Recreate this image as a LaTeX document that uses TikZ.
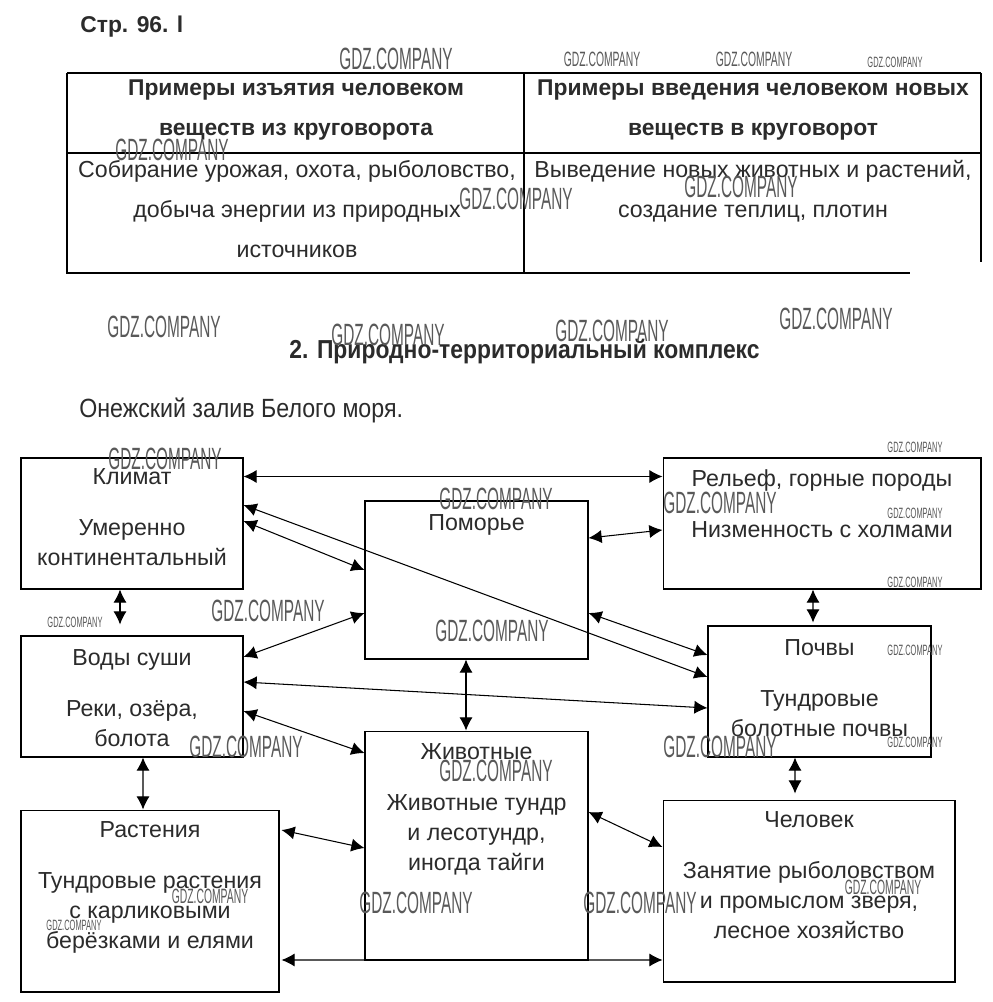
\documentclass[tikz,border=0pt]{standalone}
\usepackage{fontspec}
\setmainfont{Liberation Sans}
\newfontfamily\narrowfont[FakeStretch=0.88]{Liberation Sans}
\newfontfamily\wmfont[FakeStretch=0.5]{Liberation Sans}
\usetikzlibrary{arrows.meta,positioning}
\definecolor{ink}{HTML}{2B2B2B}

\begin{document}
\begin{tikzpicture}[
            x=0.02cm, y=-0.02cm,
            blk/.style={draw, line width=0.6pt, inner sep=0pt},
            txt/.style={align=center, inner sep=0pt, text=ink, font=\fontsize{13.2}{17}\selectfont},
            hd/.style={txt, font=\bfseries\fontsize{13}{23}\selectfont},
            body/.style={txt, font=\fontsize{13.2}{22.7}\selectfont},
            wm/.style={text=black!65, inner sep=0pt, font=\wmfont\fontsize{17.5}{17.5}\selectfont},
            wms/.style={wm, font=\wmfont\fontsize{11.8}{12}\selectfont},
            wmt/.style={wm, font=\wmfont\fontsize{8.5}{9}\selectfont},
            link/.style={<->, line width=0.6pt},
            >={Latex[length=7.5pt,width=7.5pt]}
        ]
        \useasboundingbox[fill=white] (0,0) rectangle (993,1002);

        % page header
        \node[anchor=west, inner sep=0pt, text=ink, font=\bfseries\fontsize{13}{15}\selectfont] (page) at (80,27) {Стр. 96. l};

        % table
        \draw[line width=0.6pt] (67,73) -- (981,73);
        \draw[line width=0.6pt] (67,153) -- (981,153);
        \draw[line width=0.6pt] (67,73) -- (67,273) -- (910,273);
        \draw[line width=0.6pt] (524,73) -- (524,273);
        \draw[line width=0.6pt] (981,73) -- (981,262);
        \node[hd, anchor=north] (head-out) at (296,79) {Примеры изъятия человеком\\веществ из круговорота};
        \node[hd, anchor=north] (head-in) at (753,79) {Примеры введения человеком новых\\веществ в круговорот};
        \node[body, anchor=north] (row-out) at (297,160) {Собирание урожая, охота, рыболовство,\\добыча энергии из природных\\источников};
        \node[body, anchor=north] (row-in) at (753,160) {Выведение новых животных и растений,\\создание теплиц, плотин};

        % second task
        \node[inner sep=0pt, text=ink, font=\narrowfont\bfseries\fontsize{14.8}{16}\selectfont] (ptk) at (524.5,352) {2. Природно-территориальный комплекс};
        \node[anchor=west, inner sep=0pt, text=ink, font=\narrowfont\fontsize{15}{16}\selectfont] (place) at (79,410) {Онежский залив Белого моря.};

        % blocks
        \node[blk, minimum width=4.44cm, minimum height=2.62cm] (klimat) at (132,523.5) {};
        \node[blk, minimum width=4.44cm, minimum height=2.42cm] (vody) at (132,696.5) {};
        \node[blk, minimum width=5.16cm, minimum height=3.64cm] (rast) at (150,901) {};
        \node[blk, minimum width=4.46cm, minimum height=3.16cm] (pomor) at (476.5,580) {};
        \node[blk, minimum width=4.46cm, minimum height=4.58cm] (zhiv) at (476.5,845.5) {};
        \node[blk, minimum width=6.36cm, minimum height=2.62cm] (relief) at (822,523.5) {};
        \node[blk, minimum width=4.46cm, minimum height=2.62cm] (pochvy) at (819.5,691.5) {};
        \node[blk, minimum width=5.84cm, minimum height=3.64cm] (chel) at (809,891) {};

        \node[txt, below=0.22cm of klimat.north] (klimat-t) {Климат\\[12pt]Умеренно\\континентальный};
        \node[txt, below=0.28cm of vody.north] (vody-t) {Воды суши\\[12pt]Реки, озёра,\\болота};
        \node[txt, below=0.24cm of rast.north] (rast-t) {Растения\\[12pt]Тундровые растения\\с карликовыми\\берёзками и елями};
        \node[txt, below=0.28cm of pomor.north] (pomor-t) {Поморье};
        \node[txt, below=0.26cm of zhiv.north] (zhiv-t) {Животные\\[12pt]Животные тундр\\и лесотундр,\\иногда тайги};
        \node[txt, below=0.24cm of relief.north] (relief-t) {Рельеф, горные породы\\[12pt]Низменность с холмами};
        \node[txt, below=0.28cm of pochvy.north] (pochvy-t) {Почвы\\[12pt]Тундровые\\болотные почвы};
        \node[txt, below=0.24cm of chel.north] (chel-t) {Человек\\[12pt]Занятие рыболовством\\и промыслом зверя,\\лесное хозяйство};

        % links
        \draw[link] ([yshift=-0.38cm]klimat.north east) -- ([yshift=-0.38cm]relief.north west);
        \draw[link] ([yshift=0.05cm]klimat.east) -- ([yshift=0.2cm]pomor.west);
        \draw[link] ([yshift=0.37cm]klimat.east) -- ([yshift=0.29cm]pochvy.west);
        \draw[link] ([xshift=-0.24cm]klimat.south) -- ([xshift=-0.24cm,yshift=0.22cm]vody.north);
        \draw[link] ([yshift=0.79cm]vody.east) -- ([yshift=-0.66cm]pomor.west);
        \draw[link] ([yshift=0.29cm]vody.east) -- ([yshift=-0.33cm]pochvy.west);
        \draw[link] ([yshift=-0.29cm]vody.east) -- ([yshift=1.85cm]zhiv.west);
        \draw[link] ([xshift=0.22cm]vody.south) -- ([xshift=-0.14cm]rast.north);
        \draw[link] ([yshift=0.84cm]pomor.east) -- ([yshift=-0.13cm]relief.west);
        \draw[link] ([yshift=-0.66cm]pomor.east) -- ([yshift=0.73cm]pochvy.west);
        \draw[link] ([xshift=-0.21cm]pomor.south) -- ([xshift=-0.21cm]zhiv.north);
        \draw[link] ([xshift=-0.18cm]relief.south) -- ([xshift=-0.13cm,yshift=0.06cm]pochvy.north);
        \draw[link] ([xshift=-0.49cm]pochvy.south) -- ([xshift=-0.28cm,yshift=0.12cm]chel.north);
        \draw[link] ([xshift=0.04cm,yshift=1.42cm]rast.east) -- ([yshift=-0.05cm]zhiv.west);
        \draw[link] ([yshift=0.67cm]zhiv.east) -- ([yshift=0.88cm]chel.west);
        \draw[link] ([xshift=0.04cm,yshift=-1.18cm]rast.east) -- ([yshift=-1.38cm]chel.west);

        % watermarks
        \foreach \x/\y [count=\i] in {396/59, 172/150, 516/199, 741/187, 164/327, 388/335, 612/331, 836/319,
                165/459, 496/499, 720/503, 268/611, 492/631, 246/747, 720/747, 496/771, 416/903, 640/903}
            \node[wm] (wm-\i) at (\x,\y) {GDZ.COMPANY};
        \foreach \x/\y [count=\i] in {602/59, 754/59, 210/896, 883/887}
            \node[wms] (wms-\i) at (\x,\y) {GDZ.COMPANY};
        \foreach \x/\y [count=\i] in {895/62, 915/447, 915/513, 915/582, 75/622, 915/650, 915/742, 74/925}
            \node[wmt] (wmt-\i) at (\x,\y) {GDZ.COMPANY};
    \end{tikzpicture}
\end{document}
